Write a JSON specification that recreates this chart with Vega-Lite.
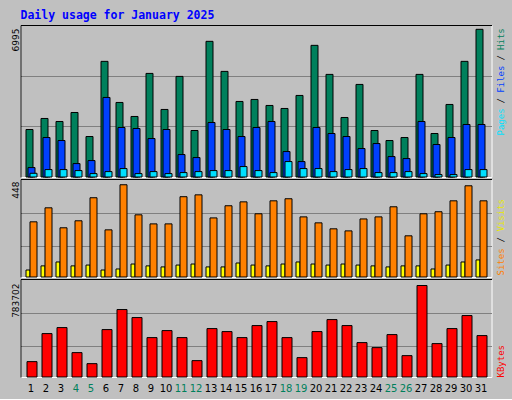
{
  "$schema": "https://vega.github.io/schema/vega-lite/v6.json",
  "background": "#C0C0C0",
  "padding": {"left": 10.5, "top": 10, "right": 7.5, "bottom": 5},
  "title": {"text": "Daily usage for January 2025", "anchor": "start", "frame": "group", "font": "DejaVu Sans Mono", "fontSize": 11.5, "fontWeight": "bold", "color": "#0000FF", "baseline": "alphabetic", "offset": -6},
  "data": {"values": [
    {"day": 1, "hits": 2250, "files": 446, "pages": 176, "visits": 34, "sites": 268, "kbytes": 131569},
    {"day": 2, "hits": 2772, "files": 1870, "pages": 351, "visits": 54, "sites": 336, "kbytes": 371826},
    {"day": 3, "hits": 2629, "files": 1728, "pages": 351, "visits": 73, "sites": 239, "kbytes": 423310},
    {"day": 4, "hits": 3056, "files": 636, "pages": 304, "visits": 54, "sites": 273, "kbytes": 208795},
    {"day": 5, "hits": 1917, "files": 778, "pages": 161, "visits": 58, "sites": 385, "kbytes": 114408},
    {"day": 6, "hits": 5477, "files": 3768, "pages": 256, "visits": 34, "sites": 229, "kbytes": 406148},
    {"day": 7, "hits": 3531, "files": 2345, "pages": 399, "visits": 39, "sites": 448, "kbytes": 577760},
    {"day": 8, "hits": 2867, "files": 2297, "pages": 161, "visits": 63, "sites": 302, "kbytes": 509116},
    {"day": 9, "hits": 4907, "files": 1822, "pages": 256, "visits": 54, "sites": 258, "kbytes": 337504},
    {"day": 10, "hits": 3199, "files": 2250, "pages": 161, "visits": 49, "sites": 258, "kbytes": 397568},
    {"day": 11, "hits": 4765, "files": 1063, "pages": 209, "visits": 58, "sites": 390, "kbytes": 337504},
    {"day": 12, "hits": 2202, "files": 921, "pages": 256, "visits": 63, "sites": 399, "kbytes": 140150},
    {"day": 13, "hits": 6426, "files": 2582, "pages": 304, "visits": 49, "sites": 287, "kbytes": 414729},
    {"day": 14, "hits": 5002, "files": 2250, "pages": 304, "visits": 49, "sites": 346, "kbytes": 388987},
    {"day": 15, "hits": 3578, "files": 1917, "pages": 494, "visits": 68, "sites": 365, "kbytes": 337504},
    {"day": 16, "hits": 3673, "files": 2345, "pages": 304, "visits": 58, "sites": 307, "kbytes": 440471},
    {"day": 17, "hits": 3389, "files": 2629, "pages": 209, "visits": 54, "sites": 370, "kbytes": 474793},
    {"day": 18, "hits": 3246, "files": 1205, "pages": 731, "visits": 63, "sites": 380, "kbytes": 337504},
    {"day": 19, "hits": 3863, "files": 731, "pages": 399, "visits": 73, "sites": 292, "kbytes": 165892},
    {"day": 20, "hits": 6236, "files": 2345, "pages": 399, "visits": 63, "sites": 263, "kbytes": 388987},
    {"day": 21, "hits": 4860, "files": 2060, "pages": 256, "visits": 58, "sites": 234, "kbytes": 491954},
    {"day": 22, "hits": 2819, "files": 1917, "pages": 351, "visits": 63, "sites": 224, "kbytes": 440471},
    {"day": 23, "hits": 4385, "files": 1348, "pages": 399, "visits": 58, "sites": 282, "kbytes": 294601},
    {"day": 24, "hits": 2202, "files": 1585, "pages": 209, "visits": 54, "sites": 292, "kbytes": 251698},
    {"day": 25, "hits": 1728, "files": 968, "pages": 209, "visits": 49, "sites": 341, "kbytes": 363245},
    {"day": 26, "hits": 1870, "files": 873, "pages": 256, "visits": 54, "sites": 200, "kbytes": 183053},
    {"day": 27, "hits": 4860, "files": 2629, "pages": 161, "visits": 54, "sites": 307, "kbytes": 783702},
    {"day": 28, "hits": 2060, "files": 1538, "pages": 114, "visits": 39, "sites": 317, "kbytes": 286020},
    {"day": 29, "hits": 3436, "files": 1870, "pages": 114, "visits": 58, "sites": 370, "kbytes": 414729},
    {"day": 30, "hits": 5477, "files": 2487, "pages": 351, "visits": 73, "sites": 443, "kbytes": 526277},
    {"day": 31, "hits": 6995, "files": 2487, "pages": 351, "visits": 83, "sites": 370, "kbytes": 354665}
  ]},
  "bounds": "flush",
  "spacing": 2,
  "vconcat": [
    {
      "width": 471,
      "height": 152,
      "resolve": {"scale": {"y": "independent"}, "axis": {"x": "independent", "y": "independent"}},
      "layer": [
        {
          "mark": {"type": "bar", "color": "#00805C", "stroke": "black", "strokeWidth": 1, "width": 7, "xOffset": -1.5},
          "encoding": {
            "x": {"field": "day", "type": "ordinal", "scale": {"paddingInner": 0, "paddingOuter": 0.2},
                  "axis": {"orient": "bottom", "title": "Hits", "titleColor": "#00805C", "titleX": 480, "titleY": -127.6}},
            "y": {"field": "hits", "type": "quantitative", "scale": {"domain": [0, 7200], "nice": false},
                  "axis": {"orient": "left", "values": [2400, 4800, 7200], "domain": true, "domainColor": "black", "grid": true,
                           "gridColor": {"condition": {"test": "datum.value >= 7200", "value": "black"}, "value": "#808080"},
                           "title": "6995", "titleColor": "black", "titleFont": "DejaVu Sans", "titleAlign": "right", "titleX": -5, "titleY": 3}}
          }
        },
        {
          "mark": {"type": "bar", "color": "#0040FF", "stroke": "black", "strokeWidth": 1, "width": 7, "xOffset": 0.5},
          "encoding": {
            "x": {"field": "day", "type": "ordinal",
                  "axis": {"orient": "bottom", "title": "/", "titleColor": "black", "titleX": 480, "titleY": -116.9}},
            "y": {"field": "files", "type": "quantitative", "scale": {"domain": [0, 7200], "nice": false},
                  "axis": {"orient": "right", "title": "Files", "titleColor": "#0040FF", "titleX": 9, "titleY": 67.2}}
          }
        },
        {
          "mark": {"type": "bar", "color": "#00E0FF", "stroke": "black", "strokeWidth": 1, "width": 7, "xOffset": 2.5},
          "encoding": {
            "x": {"field": "day", "type": "ordinal",
                  "axis": {"orient": "bottom", "title": "/", "titleColor": "black", "titleX": 480, "titleY": -74.1}},
            "y": {"field": "pages", "type": "quantitative", "scale": {"domain": [0, 7200], "nice": false},
                  "axis": {"orient": "right", "title": "Pages", "titleColor": "#00E0FF", "titleX": 9, "titleY": 110}}
          }
        }
      ]
    },
    {
      "width": 471,
      "height": 98,
      "resolve": {"scale": {"y": "independent"}, "axis": {"x": "independent", "y": "independent"}},
      "layer": [
        {
          "mark": {"type": "bar", "color": "#FFFF00", "stroke": "black", "strokeWidth": 1, "width": 4, "xOffset": -3},
          "encoding": {
            "x": {"field": "day", "type": "ordinal", "scale": {"paddingInner": 0, "paddingOuter": 0.2},
                  "axis": {"orient": "bottom", "title": "Sites", "titleColor": "#FF8000", "titleX": 480, "titleY": -2}},
            "y": {"field": "visits", "type": "quantitative", "scale": {"domain": [0, 476], "nice": false},
                  "axis": {"orient": "left", "values": [149, 309, 476], "domain": true, "domainColor": "black", "grid": true,
                           "gridColor": {"condition": {"test": "datum.value >= 476", "value": "black"}, "value": "#808080"},
                           "title": "448", "titleColor": "black", "titleFont": "DejaVu Sans", "titleAlign": "right", "titleX": -5, "titleY": 2}}
          }
        },
        {
          "mark": {"type": "bar", "color": "#FF8000", "stroke": "black", "strokeWidth": 1, "width": 7, "xOffset": 2.5},
          "encoding": {
            "x": {"field": "day", "type": "ordinal",
                  "axis": {"orient": "bottom", "title": "Visits", "titleColor": "#E8E800", "titleX": 480, "titleY": -46}},
            "y": {"field": "sites", "type": "quantitative", "scale": {"domain": [0, 476], "nice": false},
                  "axis": {"orient": "right", "title": "/", "titleColor": "black", "titleX": 9, "titleY": 63}}
          }
        }
      ]
    },
    {
      "width": 471,
      "height": 98,
      "mark": {"type": "bar", "color": "#FF0000", "stroke": "black", "strokeWidth": 1, "width": 10, "xOffset": 1},
      "encoding": {
        "x": {"field": "day", "type": "ordinal", "scale": {"paddingInner": 0, "paddingOuter": 0.2},
              "axis": {"orient": "bottom", "labels": true, "labelAngle": 0, "labelOverlap": false, "labelFont": "DejaVu Sans", "labelFontSize": 10, "labelPadding": 6,
                       "labelColor": {"condition": {"test": "indexof([4,5,11,12,18,19,25,26], datum.value) >= 0", "value": "#00805C"}, "value": "black"},
                       "title": "KBytes", "titleColor": "#FF0000", "titleX": 480, "titleY": 0}},
        "y": {"field": "kbytes", "type": "quantitative", "scale": {"domain": [0, 839400], "nice": false},
              "axis": {"orient": "left", "values": [263000, 546000, 839400], "domain": true, "domainColor": "black", "grid": true,
                       "gridColor": {"condition": {"test": "datum.value >= 839400", "value": "black"}, "value": "#808080"},
                       "title": "783702", "titleColor": "black", "titleFont": "DejaVu Sans", "titleAlign": "right", "titleX": -5, "titleY": 4}}
      }
    }
  ],
  "config": {
    "view": {"stroke": "white", "strokeWidth": 1},
    "axis": {"labels": false, "ticks": false, "domain": false, "grid": false, "tickSize": 0,
             "titleFont": "DejaVu Sans Mono", "titleFontSize": 9, "titleFontWeight": "normal", "titleAngle": 270, "titleBaseline": "middle", "titleAlign": "left", "titlePadding": 0}
  }
}
